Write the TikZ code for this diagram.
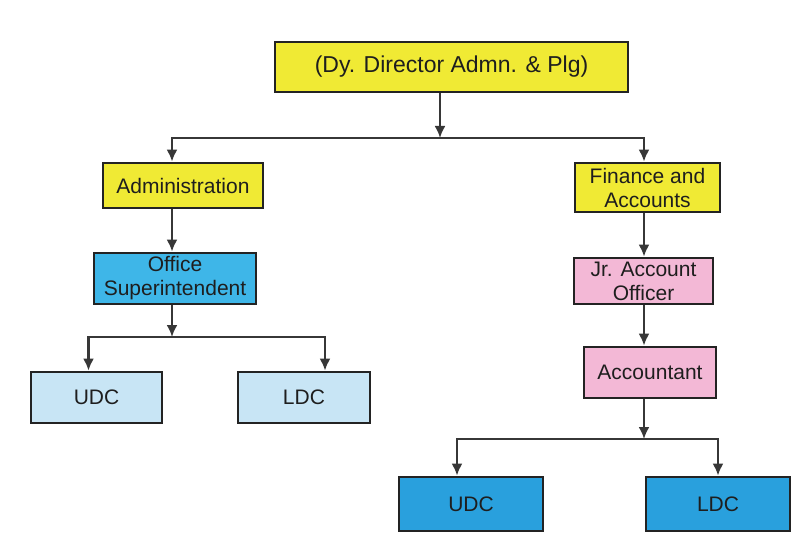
\documentclass[tikz,border=0pt]{standalone}
\usepackage{fontspec}
\setmainfont{Liberation Sans}
\usetikzlibrary{arrows.meta}

\definecolor{headyellow}{RGB}{240,234,52}
\definecolor{officeblue}{RGB}{62,182,232}
\definecolor{clerkblue}{RGB}{200,229,245}
\definecolor{accountpink}{RGB}{243,184,214}
\definecolor{deepblue}{RGB}{41,160,221}
\definecolor{boxline}{RGB}{35,35,35}
\definecolor{linegray}{RGB}{55,55,55}
\definecolor{textgray}{RGB}{30,30,30}

\begin{document}
\begin{tikzpicture}[x=1pt,y=-1pt]

		\tikzstyle{post} = [rectangle, draw=boxline, line width=2.8pt, align=center, inner sep=0pt, text=textgray, font=\fontsize{21}{24}\selectfont]
		
		\tikzstyle{links} = [-{Latex[length=12pt,width=11pt]}, draw=linegray, line width=2.2pt]
		
		\useasboundingbox (0,0) rectangle (810,553);
		
		\node[post, fill=headyellow, minimum width=353, minimum height=50, font=\fontsize{23}{26}\selectfont] at (451.5,67) (director) {(Dy. Director Admn. \& Plg)};
		
		\node[post, fill=headyellow, minimum width=160, minimum height=45] at (183,185.5) (admin) {Administration};
		\node[post, fill=headyellow, minimum width=145, minimum height=49] at (647.5,187.5) (finance) {Finance and\\Accounts};
		
		\node[post, fill=officeblue, minimum width=162, minimum height=51] at (175,278.5) (office) {Office\\Superintendent};
		
		\node[post, fill=clerkblue, minimum width=131, minimum height=51] at (96.5,397.5) (udcleft) {UDC};
		\node[post, fill=clerkblue, minimum width=132, minimum height=51] at (304,397.5) (ldcleft) {LDC};
		
		\node[post, fill=accountpink, minimum width=139, minimum height=46] at (643.5,281) (jrofficer) {Jr. Account\\Officer};
		\node[post, fill=accountpink, minimum width=132, minimum height=51] at (650,372.5) (accountant) {Accountant};
		
		\node[post, fill=deepblue, minimum width=144, minimum height=54] at (471,504) (udcright) {UDC};
		\node[post, fill=deepblue, minimum width=144, minimum height=54] at (718,504) (ldcright) {LDC};
		
		% branch points on the bars
		\coordinate (split1) at (440,138);
		\coordinate (split2) at (172,337);
		\coordinate (split3) at (644,439);
		
		\draw[links] (split1 |- director.south) -- (split1);
		\draw[links] (split1) -| (split2 |- admin.north);
		\draw[links] (split1) -| (split3 |- finance.north);
		
		\draw[links] (split2 |- admin.south) -- (split2 |- office.north);
		\draw[links] (split2 |- office.south) -- (split2);
		\draw[links] (split2) -| ([xshift=-8pt]udcleft.north);
		\draw[links] (split2) -| ([xshift=21pt]ldcleft.north);
		
		\draw[links] (split3 |- finance.south) -- (split3 |- jrofficer.north);
		\draw[links] (split3 |- jrofficer.south) -- (split3 |- accountant.north);
		\draw[links] (split3 |- accountant.south) -- (split3);
		\draw[links] (split3) -| ([xshift=-14pt]udcright.north);
		\draw[links] (split3) -| (ldcright.north);
	\end{tikzpicture}
\end{document}
